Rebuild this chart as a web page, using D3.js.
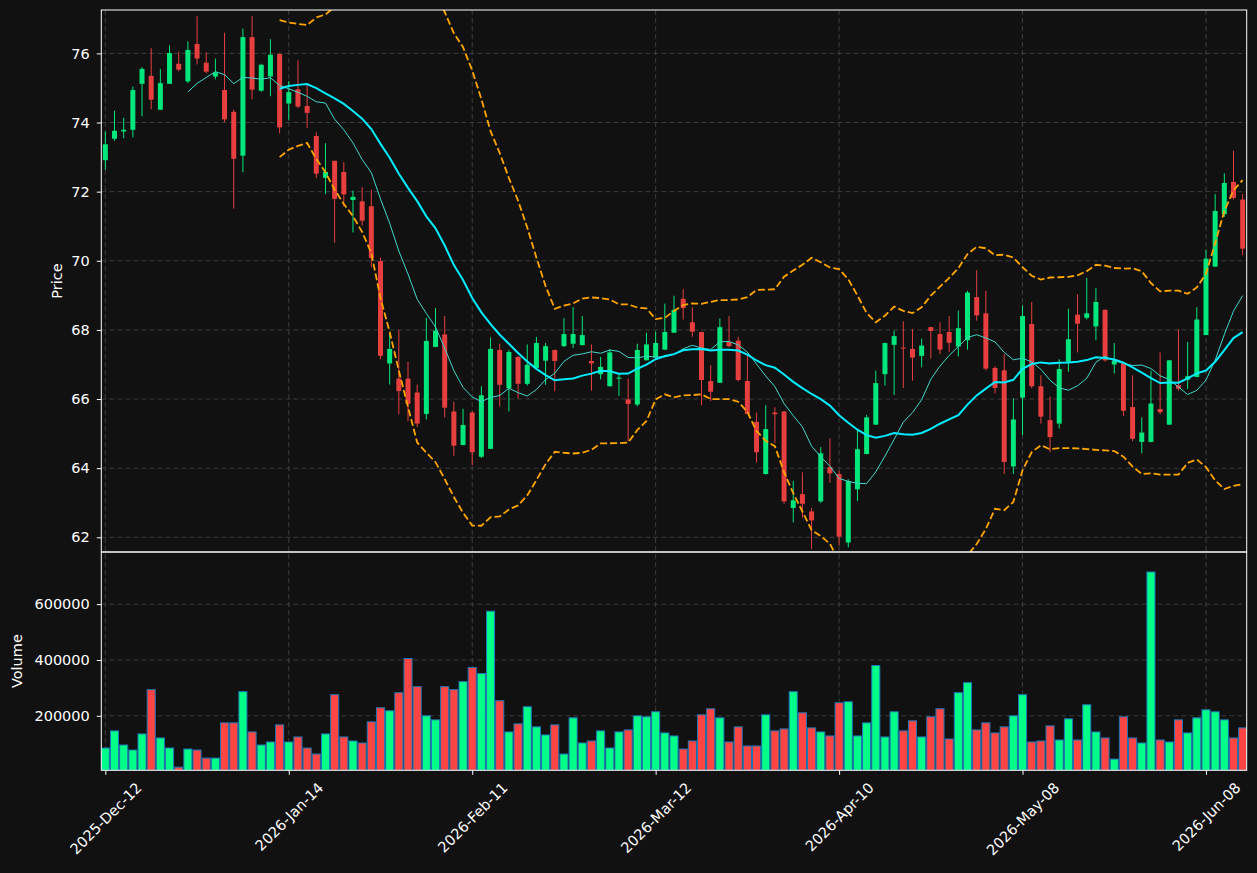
<!DOCTYPE html>
<html>
<head>
<meta charset="utf-8">
<script src="https://cdn.jsdelivr.net/npm/d3@7"></script>
<style>
  html, body { margin: 0; padding: 0; background: #111111; }
  svg { display: block; }
  text { font-family: "DejaVu Sans", sans-serif; }
</style>
</head>
<body>
<svg id="chart"></svg>
<script>
// --- DATA (one entry per trading day) ---
const opens = [72.91,73.53,73.74,73.79,75.12,75.35,74.37,75.12,75.70,75.19,76.27,75.73,75.33,74.94,74.31,73.04,76.47,74.92,75.33,75.98,
  74.55,74.96,74.48,73.61,72.40,72.89,72.57,71.76,71.72,71.58,69.99,67.03,66.59,66.59,66.19,65.57,67.51,67.87,65.64,64.67,
  65.61,64.33,64.56,67.42,66.31,67.22,66.44,66.90,67.11,67.42,67.53,67.60,67.56,67.10,66.72,66.37,66.59,65.99,65.84,67.12,
  67.20,67.43,67.92,68.90,68.22,67.94,66.52,66.47,67.65,67.69,66.52,65.34,63.83,65.61,65.64,62.85,63.25,62.75,63.04,64.03,
  63.83,61.85,63.39,64.41,65.26,66.72,67.57,67.49,67.45,67.25,68.08,67.88,67.94,67.52,67.70,68.95,68.48,66.90,66.83,64.05,
  66.04,68.17,66.37,65.39,65.29,67.08,68.44,68.35,68.10,68.58,67.00,67.03,65.77,64.76,64.76,65.71,65.26,66.40,66.56,66.64,
  67.85,69.83,71.35,72.28,71.77];
const highs = [73.74,74.34,74.14,75.04,75.60,76.15,75.55,76.23,76.05,76.35,77.08,76.03,75.85,76.60,74.37,76.72,77.08,75.70,76.41,76.00,
  75.20,75.80,75.09,73.72,73.40,72.90,72.85,72.03,72.13,72.06,70.09,67.90,68.00,67.08,66.42,68.35,68.63,68.40,65.92,65.72,
  65.65,66.37,67.78,67.60,67.42,67.23,67.58,67.80,67.62,67.43,68.34,68.66,68.40,67.58,67.22,67.45,66.74,66.59,67.60,67.92,
  67.95,68.76,68.99,69.18,68.66,67.95,66.98,68.33,68.40,67.80,67.28,65.61,65.82,65.76,65.65,63.63,63.88,62.85,64.61,64.86,
  63.93,63.68,65.08,65.54,66.82,67.63,67.98,68.25,68.02,67.75,68.09,68.22,68.40,68.56,69.13,69.73,69.13,66.95,67.30,66.02,
  68.71,68.81,66.69,66.07,67.15,68.61,69.03,69.51,69.21,68.59,67.62,67.05,66.69,65.47,66.82,67.35,67.13,68.02,67.65,68.66,
  70.32,71.93,72.53,73.18,71.93];
const lows = [72.63,73.47,73.54,73.57,74.18,74.38,74.37,75.12,75.48,75.14,75.68,75.42,75.25,74.01,71.51,72.56,74.67,74.89,74.76,73.69,
  74.06,74.42,73.84,72.39,71.93,70.52,71.57,70.82,71.02,69.81,67.15,66.42,65.56,65.36,65.19,65.41,67.50,65.47,64.36,64.66,
  64.08,64.30,64.55,65.79,65.64,66.02,66.39,66.90,66.41,66.22,67.50,67.48,67.55,66.24,66.57,66.36,66.09,64.78,65.79,67.12,
  67.20,67.43,67.92,68.30,67.80,65.82,65.94,66.47,67.50,66.51,65.56,64.16,63.82,64.73,62.97,62.43,62.57,61.66,62.99,63.58,
  61.76,61.71,63.05,64.40,65.25,66.39,66.12,66.32,66.53,66.92,67.18,67.30,67.37,67.23,67.43,68.27,66.83,66.16,63.83,63.83,
  64.96,66.31,65.29,64.46,65.15,66.79,67.35,68.30,67.70,67.08,66.74,65.51,64.78,64.43,64.75,65.56,65.25,66.24,66.29,66.63,
  67.85,69.83,71.27,71.77,70.16];
const closes = [73.37,73.76,73.79,74.94,75.55,74.66,75.14,76.01,75.53,76.10,75.85,75.47,75.45,74.09,72.95,76.47,74.95,75.67,75.96,73.86,
  74.88,74.46,74.28,72.52,72.57,71.79,71.92,71.85,71.16,70.08,67.25,67.45,66.23,65.86,65.29,67.68,67.98,65.75,64.65,65.25,
  64.46,66.11,67.45,66.41,67.36,66.44,66.99,67.62,67.53,67.10,67.88,67.88,67.85,67.03,66.93,67.35,66.62,65.86,67.42,67.58,
  67.62,67.94,68.58,68.63,67.95,66.55,66.21,68.08,67.53,66.55,65.57,64.46,65.13,65.56,63.04,63.07,62.97,62.49,64.43,63.85,
  62.02,63.63,64.55,65.47,66.46,67.62,67.82,67.46,67.20,67.55,67.97,67.43,67.63,68.05,69.08,68.42,66.88,66.32,64.18,65.41,
  68.40,66.37,65.49,64.90,66.87,67.73,68.18,68.48,68.81,67.12,67.10,65.66,64.85,65.03,65.87,65.62,67.12,66.30,66.66,68.30,
  70.06,71.44,72.25,71.82,70.35];
const volumes = [84700,146000,95500,77500,135100,293700,120700,84700,16200,81100,77500,48600,48600,174800,174800,286500,142300,95500,106300,167600,
  106300,124300,84700,63100,135100,275700,124300,109900,102700,178400,228800,218000,282900,405400,304500,200000,185600,304500,293700,322500,
  373000,351400,574800,254100,142300,171200,232400,160400,131500,167600,63100,192800,102700,109900,146000,84700,142300,149500,200000,196400,
  214400,138700,127900,81100,109900,203600,225200,192800,106300,160400,91900,91900,203600,146000,153200,286500,210800,156800,142300,127900,
  246800,250400,127900,174800,380200,124300,214400,146000,182000,124300,196400,225200,117100,282900,318900,149500,174800,138700,160400,200000,
  275700,106300,109900,164000,113500,189200,113500,239600,142300,120700,45000,196400,120700,102700,715300,113500,106300,185600,138700,192800,
  221600,214400,185600,120700,156800];

const tickIndex = [0, 20, 40, 60, 80, 100, 120];
const tickLabels = ["2025-Dec-12", "2026-Jan-14", "2026-Feb-11", "2026-Mar-12", "2026-Apr-10", "2026-May-08", "2026-Jun-08"];
const priceTicks = [62, 64, 66, 68, 70, 72, 74, 76];
const volumeTicks = [200000, 400000, 600000];

// --- Layout ---
const W = 1257, H = 873;
const left = 101.3, right = 1246.7;
const priceTop = 10, priceBottom = 552, volBottom = 770.3;
const fontSize = 14.5;

const upColor = "#00ff88";
const downColor = "#ff4444";
const gridColor = "#3c3c3c";

const svg = d3.select("#chart").attr("width", W).attr("height", H);
svg.append("rect").attr("width", W).attr("height", H).attr("fill", "#111111");

const n = closes.length;
const x = d3.scaleLinear().domain([-0.44, n - 1 + 0.44]).range([left, right]);
const yPrice = d3.scaleLinear().domain([61.575, 77.255]).range([priceBottom, priceTop]);
const yVol = d3.scaleLinear()
  .domain([0.3 * d3.min(volumes), 1.1 * d3.max(volumes)]) // same limits mplfinance uses
  .range([volBottom, priceBottom]);

const defs = svg.append("defs");
defs.append("clipPath").attr("id", "clip-price").append("rect")
  .attr("x", left).attr("y", priceTop).attr("width", right - left).attr("height", priceBottom - priceTop);
defs.append("clipPath").attr("id", "clip-vol").append("rect")
  .attr("x", left).attr("y", priceBottom).attr("width", right - left).attr("height", volBottom - priceBottom);

// --- Grid ---
const grid = svg.append("g").attr("stroke", gridColor).attr("stroke-width", 1).attr("stroke-dasharray", "5,3");
grid.selectAll(".hp").data(priceTicks).join("line")
  .attr("x1", left).attr("x2", right).attr("y1", d => yPrice(d)).attr("y2", d => yPrice(d));
grid.selectAll(".hv").data(volumeTicks).join("line").attr("class", "hv")
  .attr("x1", left).attr("x2", right).attr("y1", d => yVol(d)).attr("y2", d => yVol(d));
grid.selectAll(".vx").data(tickIndex).join("line").attr("class", "vx")
  .attr("x1", d => x(d)).attr("x2", d => x(d)).attr("y1", priceTop).attr("y2", volBottom);

// --- Rolling indicators from the closes ---
function rolling(win, fn) {
  return closes.map((c, i) => (i < win - 1 ? null : fn(closes.slice(i - win + 1, i + 1))));
}
const ma10 = rolling(10, w => d3.mean(w));
const ma20 = rolling(20, w => d3.mean(w));
const sd20 = rolling(20, w => {
  const m = d3.mean(w);
  return Math.sqrt(d3.mean(w, v => (v - m) * (v - m)));
});
const upperBand = ma20.map((m, i) => (m == null ? null : m + 2 * sd20[i]));
const lowerBand = ma20.map((m, i) => (m == null ? null : m - 2 * sd20[i]));

// --- Candles ---
const candles = d3.range(n).map(i => ({ i, o: opens[i], h: highs[i], l: lows[i], c: closes[i], v: volumes[i] }));
const bodyW = x(0.545) - x(0);

const priceG = svg.append("g").attr("clip-path", "url(#clip-price)");
const cg = priceG.selectAll(".candle").data(candles).join("g").attr("class", "candle")
  .attr("opacity", 0.9);
cg.append("line")
  .attr("x1", d => x(d.i)).attr("x2", d => x(d.i))
  .attr("y1", d => yPrice(d.h)).attr("y2", d => yPrice(d.l))
  .attr("stroke", d => (d.c >= d.o ? upColor : downColor)).attr("stroke-width", 1);
cg.append("rect")
  .attr("x", d => x(d.i) - bodyW / 2).attr("width", bodyW)
  .attr("y", d => yPrice(Math.max(d.o, d.c)))
  .attr("height", d => Math.max(1, Math.abs(yPrice(d.o) - yPrice(d.c))))
  .attr("fill", d => (d.c >= d.o ? upColor : downColor));

// --- Indicator lines ---
const lineFor = arr => d3.line().defined((d, i) => arr[i] != null).x((d, i) => x(i)).y((d, i) => yPrice(arr[i]))(arr);

priceG.append("path").attr("d", lineFor(ma10)).attr("fill", "none")
  .attr("stroke", "#40d8cc").attr("stroke-width", 1);
priceG.append("path").attr("d", lineFor(ma20)).attr("fill", "none")
  .attr("stroke", "#00eeff").attr("stroke-width", 2);
[upperBand, lowerBand].forEach(b => {
  priceG.append("path").attr("d", lineFor(b)).attr("fill", "none")
    .attr("stroke", "#ffa500").attr("stroke-width", 1.8).attr("stroke-dasharray", "7,3");
});

// --- Volume ---
const volW = x(0.88) - x(0);
svg.append("g").attr("clip-path", "url(#clip-vol)")
  .selectAll("rect").data(candles).join("rect")
  .attr("x", d => x(d.i) - volW / 2).attr("width", volW)
  .attr("y", d => yVol(d.v)).attr("height", d => volBottom - yVol(d.v))
  .attr("fill", d => (d.c >= d.o ? upColor : downColor))
  .attr("stroke", "#1f77b4").attr("stroke-width", 1);

// --- Axes ---
function styleAxis(g) {
  g.select(".domain").remove();
  g.selectAll("line").attr("stroke", "#ffffff");
  g.selectAll("text").attr("fill", "#ffffff").style("font-size", fontSize + "px")
    .style("font-family", "'DejaVu Sans', sans-serif");
}

svg.append("g").attr("transform", `translate(${left},0)`)
  .call(d3.axisLeft(yPrice).tickValues(priceTicks).tickFormat(d3.format("d")).tickSize(4.5).tickPadding(7))
  .call(styleAxis);

svg.append("g").attr("transform", `translate(${left},0)`)
  .call(d3.axisLeft(yVol).tickValues(volumeTicks).tickFormat(d3.format("d")).tickSize(4.5).tickPadding(7))
  .call(styleAxis);

const xAxisG = svg.append("g").attr("transform", `translate(0,${volBottom})`)
  .call(d3.axisBottom(x).tickValues(tickIndex).tickFormat((d, i) => tickLabels[i]).tickSize(4.5))
  .call(styleAxis);

// rotated labels, centred under their tick like matplotlib's rotation=45
xAxisG.selectAll(".tick text").each(function () {
  const t = d3.select(this);
  const len = this.getComputedTextLength();
  const boxH = (len + fontSize * 1.16) * Math.SQRT1_2;
  t.attr("text-anchor", "middle").attr("dy", null).attr("y", null)
    .attr("dominant-baseline", "central")
    .attr("transform", `translate(0,${9 + boxH / 2}) rotate(-45)`);
});

// panel frames
[[priceTop, priceBottom], [priceBottom, volBottom]].forEach(([t, b]) => {
  svg.append("rect").attr("x", left).attr("y", t).attr("width", right - left).attr("height", b - t)
    .attr("fill", "none").attr("stroke", "#ffffff").attr("stroke-width", 1);
});

// axis titles
svg.append("text").attr("transform", `translate(57,${(priceTop + priceBottom) / 2}) rotate(-90)`)
  .attr("text-anchor", "middle").attr("dominant-baseline", "central")
  .attr("fill", "#ffffff").style("font-size", fontSize + "px").text("Price");
svg.append("text").attr("transform", `translate(17,${(priceBottom + volBottom) / 2}) rotate(-90)`)
  .attr("text-anchor", "middle").attr("dominant-baseline", "central")
  .attr("fill", "#ffffff").style("font-size", fontSize + "px").text("Volume");
</script>
</body>
</html>
